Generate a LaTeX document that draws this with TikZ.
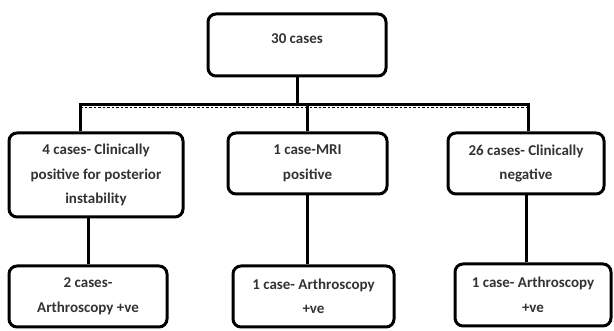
\documentclass[tikz,border=0pt]{standalone}
\usepackage{fontspec}
\setmainfont{Carlito}
\begin{document}
\begin{tikzpicture}[x=1pt,y=-1pt,
  box/.style={draw=black, line width=3pt, rounded corners=8pt, fill=white,
    align=center, inner sep=0pt, font=\fontsize{15}{24.5}\selectfont\bfseries, text=black!80},
  link/.style={draw=black, line width=3pt},
  fringe/.style={draw=black, line width=1.4pt, dash pattern=on 2.5pt off 2pt}]
\path[use as bounding box] (0,0) rectangle (614,331);
\node[box, minimum width=178pt, minimum height=62pt] (top) at (297,45) {\raisebox{6pt}[\height][\depth]{30 cases}};
\node[box, minimum width=174pt, minimum height=84pt] (b1) at (96,175)
  {4 cases- Clinically\\positive for posterior\\instability};
\node[box, minimum width=159pt, minimum height=61pt] (b2) at (307.5,163.5)
  {1 case-MRI\\positive};
\node[box, minimum width=156pt, minimum height=61pt] (b3) at (526,163.5)
  {26 cases- Clinically\\negative};
\node[box, minimum width=158pt, minimum height=61pt] (c1) at (88,296.5)
  {2 cases-\\Arthroscopy +ve};
\node[box, minimum width=161pt, minimum height=61pt] (c2) at (313.5,296.5)
  {1 case- Arthroscopy\\+ve};
\node[box, minimum width=156pt, minimum height=62pt] (c3) at (533,295)
  {1 case- Arthroscopy\\+ve};
\coordinate (hl) at (80,105);
\coordinate (hr) at (528,105);
\coordinate (fl) at (80,107.5);
\coordinate (fr) at (528,107.5);
\draw[fringe] (fl) -- (fr);
\draw[link] (top.south) -- (top.south |- hl);
\draw[link, line cap=rect] (hl) -- (hr);
\draw[link] (hl) -- (hl |- b1.north);
\draw[link] (b2.north |- hl) -- (b2.north);
\draw[link] (hr) -- (hr |- b3.north);
\draw[link] (c1.north |- b1.south) -- (c1.north);
\draw[link] (b2.south) -- (b2.south |- c2.north);
\draw[link] (b3.south) -- (b3.south |- c3.north);
\end{tikzpicture}
\end{document}
